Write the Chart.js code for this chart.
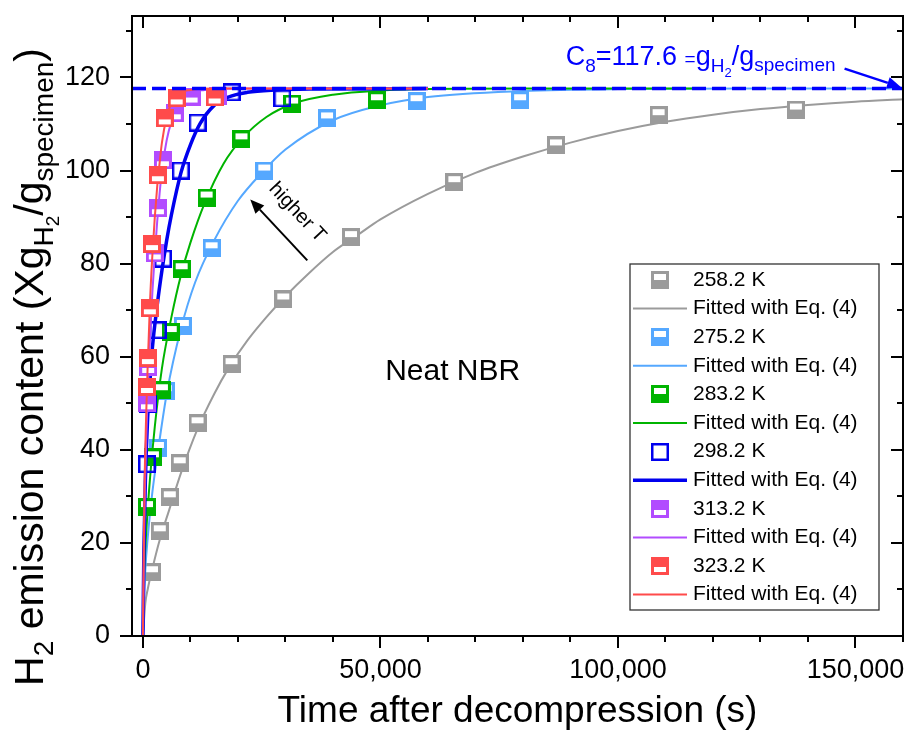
<!DOCTYPE html>
<html>
<head>
<meta charset="utf-8">
<title>H2 emission - Neat NBR</title>
<script src="https://cdn.jsdelivr.net/npm/chart.js@4.4.1/dist/chart.umd.min.js"></script>
<style>
  body { margin: 0; background: #fff; }
  canvas { display: block; }
</style>
</head>
<body>
<canvas id="h2Chart" width="913" height="731"></canvas>
<script>
// ------------------------------
// DATA (time in s, content in wt·ppm-like units)
// ------------------------------
const t258 = [1900, 3550, 5650, 7750, 11500, 18650, 29550, 43800, 65550, 86950, 108550, 137450];
const c258 = [13.7, 22.5, 29.8, 37.1, 45.7, 58.4, 72.3, 85.7, 97.5, 105.4, 111.9, 113.1];
const t275 = [3150, 4800, 8400, 14450, 25550, 38750, 57600, 79400];
const c275 = [40.4, 52.6, 66.6, 83.3, 100.0, 111.2, 114.9, 115.1];
const t283 = [850, 2100, 4000, 5850, 8150, 13400, 20750, 31400, 49250];
const c283 = [27.7, 38.4, 52.8, 65.3, 78.8, 94.2, 106.7, 114.4, 115.1];
const t298 = [850, 1050, 3150, 4200, 7950, 11500, 18650, 29350];
const c298 = [36.9, 49.8, 65.7, 81.1, 100.0, 110.3, 116.8, 115.5];
const t313 = [850, 1100, 2500, 3150, 4200, 6700, 10250, 15700];
const c313 = [50.0, 57.8, 82.2, 91.9, 102.2, 112.3, 115.9, 116.1];
const t323 = [850, 1050, 1450, 1900, 3150, 4600, 7100, 15100];
const c323 = [53.5, 59.7, 70.4, 84.2, 99.0, 111.2, 115.5, 115.7];

// fitted curves (Eq. 4)
const fit258T = [0, 500, 1000, 2000, 3500, 5500, 8000, 11500, 15000, 18000, 22000, 26000, 30000, 35000, 40000, 45000, 50000, 60000, 70000, 80000, 90000, 100000, 110000, 120000, 130000, 140000, 150000, 160000];
const fit258C = [0, 7, 10, 14.5, 20.5, 27, 35, 44.5, 52, 57.5, 63.5, 68.5, 73, 78, 82.5, 86, 89.5, 95, 99.5, 103, 106, 108.5, 110.5, 112, 113.2, 114.1, 114.8, 115.3];
const fit275T = [0, 500, 1000, 2000, 3000, 5000, 8000, 11000, 15000, 20000, 25000, 30000, 40000, 50000, 60000, 80000, 100000, 130000, 160000];
const fit275C = [0, 14, 21, 31, 38.5, 52, 66, 76, 85, 93.5, 99.5, 104.5, 110.8, 114, 115.8, 117.1, 117.5, 117.6, 117.6];
const fit283T = [0, 300, 800, 1500, 2500, 4000, 6000, 8000, 10000, 13000, 17000, 21000, 26000, 32000, 40000, 50000, 60000, 80000, 118000];
const fit283C = [0, 14, 24, 34, 45, 57.5, 68.5, 77.5, 84.5, 93, 101.5, 107, 111.5, 114.5, 116.3, 117.2, 117.5, 117.6, 117.6];
const fit298T = [0, 200, 500, 1000, 1500, 2000, 3000, 4000, 5000, 6000, 8000, 10000, 12000, 15000, 18000, 22000, 28000, 35000, 60000];
const fit298C = [0, 18, 33, 47, 55, 62, 71, 78.5, 85, 90.5, 99.5, 105.5, 110, 114, 115.8, 116.8, 117.3, 117.5, 117.6];
const fit313T = [0, 300, 700, 1000, 1500, 2000, 2500, 3000, 3500, 4000, 5000, 6000, 7000, 8500, 10000, 13000, 20000, 60000];
const fit313C = [0, 25, 42, 52, 64, 74, 82, 89, 95, 100, 106.5, 110.5, 113, 115.5, 116.7, 117.3, 117.6, 117.6];
const fit323T = [0, 300, 700, 1000, 1500, 2000, 2500, 3000, 3500, 4000, 5000, 6000, 7500, 10000, 15000, 60000];
const fit323C = [0, 30, 48, 58, 72, 82, 90, 96.5, 101.5, 106, 111.5, 114.5, 116.5, 117.3, 117.6, 117.6];

// saturation content C8
const c8 = 117.6;

// axes
const xMin = -2300, xMax = 160000;
const yMin = 0, yMax = 133.2;
const xTicks = [0, 50000, 100000, 150000];
const yTicks = [0, 20, 40, 60, 80, 100, 120];
const xMinorStep = 10000;
const yMinorStep = 10;

const FONT = "'Liberation Sans', Arial, sans-serif";

// ------------------------------
// MARKERS (square with white window)
// ------------------------------
function makeMarker(color, win) {
  const s = 18;
  const c = document.createElement('canvas');
  c.width = s; c.height = s;
  const g = c.getContext('2d');
  if (win === 'hollow') {
    g.strokeStyle = color;
    g.lineWidth = 2.5;
    g.strokeRect(1.25, 1.25, s - 2.5, s - 2.5);
  } else {
    g.fillStyle = color;
    g.fillRect(0, 0, s, s);
    g.fillStyle = '#fff';
    if (win === 'top') g.fillRect(3, 3, s - 6, 6);
    else g.fillRect(3, s - 8, s - 6, 5);
  }
  return c;
}

const series = [
  { label: '258.2 K', color: '#9b9b9b', t: t258, c: c258, fitT: fit258T, fitC: fit258C, win: 'top', width: 2 },
  { label: '275.2 K', color: '#55a8ff', t: t275, c: c275, fitT: fit275T, fitC: fit275C, win: 'top', width: 2 },
  { label: '283.2 K', color: '#00b400', t: t283, c: c283, fitT: fit283T, fitC: fit283C, win: 'top', width: 2 },
  { label: '298.2 K', color: '#0000ee', t: t298, c: c298, fitT: fit298T, fitC: fit298C, win: 'hollow', width: 3.5 },
  { label: '313.2 K', color: '#b24cff', t: t313, c: c313, fitT: fit313T, fitC: fit313C, win: 'bottom', width: 2 },
  { label: '323.2 K', color: '#ff4b4b', t: t323, c: c323, fitT: fit323T, fitC: fit323C, win: 'bottom', width: 2 }
];

const toPoints = (xs, ys) => xs.map((x, i) => ({ x: x, y: ys[i] }));

const datasets = [{
  label: 'C8',
  data: [{ x: xMin, y: c8 }, { x: xMax, y: c8 }],
  borderColor: '#0000ff',
  borderWidth: 3.5,
  borderDash: [14, 6],
  pointRadius: 0,
  showLine: true,
  order: 0
}];

series.forEach((s, i) => {
  s.marker = makeMarker(s.color, s.win);
  datasets.push({
    label: s.label,
    data: toPoints(s.t, s.c),
    pointStyle: s.marker,
    pointRadius: 9,
    showLine: false,
    order: 20 - i * 2
  });
  datasets.push({
    label: 'Fitted with Eq. (4)',
    data: toPoints(s.fitT, s.fitC),
    borderColor: s.color,
    borderWidth: s.width,
    pointRadius: 0,
    showLine: true,
    cubicInterpolationMode: 'monotone',
    order: 21 - i * 2
  });
});

// ------------------------------
// DRAWING HELPERS
// ------------------------------
function drawRich(ctx, parts, x, y, align) {
  let total = 0;
  parts.forEach(p => {
    ctx.font = p.size + 'px ' + FONT;
    p.w = ctx.measureText(p.text).width;
    total += p.w;
  });
  let cx = align === 'center' ? x - total / 2 : x;
  ctx.textAlign = 'left';
  ctx.textBaseline = 'alphabetic';
  parts.forEach(p => {
    ctx.font = p.size + 'px ' + FONT;
    ctx.fillText(p.text, cx, y + (p.dy || 0));
    cx += p.w;
  });
}

function drawArrow(ctx, x1, y1, x2, y2, color, width, headLen, headHalf) {
  const ang = Math.atan2(y2 - y1, x2 - x1);
  const bx = x2 - headLen * Math.cos(ang);
  const by = y2 - headLen * Math.sin(ang);
  ctx.strokeStyle = color;
  ctx.fillStyle = color;
  ctx.lineWidth = width;
  ctx.beginPath();
  ctx.moveTo(x1, y1);
  ctx.lineTo(bx, by);
  ctx.stroke();
  ctx.beginPath();
  ctx.moveTo(x2, y2);
  ctx.lineTo(bx + headHalf * Math.sin(ang), by - headHalf * Math.cos(ang));
  ctx.lineTo(bx - headHalf * Math.sin(ang), by + headHalf * Math.cos(ang));
  ctx.closePath();
  ctx.fill();
}

// frame, ticks on all sides, labels, legend
const decorations = {
  id: 'decorations',
  afterDraw(chart) {
    const { ctx, chartArea: a, scales: { x, y } } = chart;
    ctx.save();

    // frame
    ctx.strokeStyle = '#000';
    ctx.lineWidth = 2;
    ctx.strokeRect(a.left, a.top, a.right - a.left, a.bottom - a.top);

    // ticks: outward on bottom/left, inward on top/right
    const majorLen = 12, minorLen = 6;
    ctx.lineWidth = 2;
    ctx.beginPath();
    for (let v = 0; v <= xMax; v += xMinorStep) {
      const px = Math.round(x.getPixelForValue(v));
      const len = xTicks.includes(v) ? majorLen : minorLen;
      ctx.moveTo(px, a.bottom); ctx.lineTo(px, a.bottom + len);
      ctx.moveTo(px, a.top); ctx.lineTo(px, a.top + len);
    }
    for (let v = 0; v <= yMax; v += yMinorStep) {
      const py = Math.round(y.getPixelForValue(v));
      const len = yTicks.includes(v) ? majorLen : minorLen;
      ctx.moveTo(a.left, py); ctx.lineTo(a.left - len, py);
      ctx.moveTo(a.right, py); ctx.lineTo(a.right - len, py);
    }
    ctx.stroke();

    // axis titles
    ctx.fillStyle = '#000';
    ctx.font = '37px ' + FONT;
    ctx.textAlign = 'center';
    ctx.textBaseline = 'alphabetic';
    ctx.fillText('Time after decompression (s)', (a.left + a.right) / 2, 722);

    ctx.save();
    ctx.translate(43, 367);
    ctx.rotate(-Math.PI / 2);
    drawRich(ctx, [
      { text: 'H', size: 41 },
      { text: '2', size: 28, dy: 10 },
      { text: ' emission content (Xg', size: 41 },
      { text: 'H', size: 28, dy: 10 },
      { text: '2', size: 19, dy: 16 },
      { text: '/g', size: 41 },
      { text: 'specimen', size: 28, dy: 10 },
      { text: ')', size: 41 }
    ], 0, 0, 'center');
    ctx.restore();

    // C8 annotation + arrow
    ctx.fillStyle = '#0000ff';
    drawRich(ctx, [
      { text: 'C', size: 27 },
      { text: '8', size: 19, dy: 7 },
      { text: '=117.6 ', size: 27 },
      { text: '=', size: 19 },
      { text: 'g', size: 27 },
      { text: 'H', size: 19, dy: 7 },
      { text: '2', size: 13, dy: 12 },
      { text: '/g', size: 27 },
      { text: 'specimen', size: 19, dy: 6 }
    ], x.getPixelForValue(89000), y.getPixelForValue(122.6), 'left');
    drawArrow(ctx, x.getPixelForValue(147700), y.getPixelForValue(121.9),
      x.getPixelForValue(159600), y.getPixelForValue(117.9), '#0000ff', 2.5, 14, 6);

    // sample name
    ctx.fillStyle = '#000';
    ctx.font = '30px ' + FONT;
    ctx.textAlign = 'center';
    ctx.textBaseline = 'middle';
    ctx.fillText('Neat NBR', x.getPixelForValue(65200), y.getPixelForValue(56.7));

    // temperature trend arrow
    drawArrow(ctx, x.getPixelForValue(34600), y.getPixelForValue(80.7),
      x.getPixelForValue(22600), y.getPixelForValue(93.8), '#000', 2, 14, 6);
    ctx.save();
    ctx.translate(x.getPixelForValue(32500), y.getPixelForValue(91.0));
    ctx.rotate(0.82);
    ctx.font = '20px ' + FONT;
    ctx.fillText('higher T', 0, 0);
    ctx.restore();

    // legend box
    const lg = { left: 630, top: 264, width: 249, height: 346, firstRow: 280, rowH: 28.6 };
    ctx.fillStyle = '#fff';
    ctx.fillRect(lg.left, lg.top, lg.width, lg.height);
    ctx.strokeStyle = '#333';
    ctx.lineWidth = 1.3;
    ctx.strokeRect(lg.left, lg.top, lg.width, lg.height);
    ctx.font = '21px ' + FONT;
    ctx.textAlign = 'left';
    ctx.textBaseline = 'middle';
    series.forEach((s, i) => {
      const r1 = lg.firstRow + i * 2 * lg.rowH;
      const r2 = r1 + lg.rowH;
      ctx.drawImage(s.marker, 660 - 9, Math.round(r1) - 9);
      ctx.fillStyle = '#000';
      ctx.fillText(s.label, 693, r1);
      ctx.strokeStyle = s.color;
      ctx.lineWidth = s.width;
      ctx.beginPath();
      ctx.moveTo(633, r2); ctx.lineTo(687, r2);
      ctx.stroke();
      ctx.fillText('Fitted with Eq. (4)', 693, r2);
    });

    ctx.restore();
  }
};

// ------------------------------
// CHART
// ------------------------------
const ctx = document.getElementById('h2Chart').getContext('2d');
new Chart(ctx, {
  type: 'scatter',
  data: { datasets: datasets },
  options: {
    responsive: false,
    animation: false,
    devicePixelRatio: 1,
    layout: { padding: { top: 16, right: 6, left: 0, bottom: 0 } },
    plugins: {
      legend: { display: false },
      tooltip: { enabled: false }
    },
    scales: {
      x: {
        type: 'linear',
        min: xMin,
        max: xMax,
        grid: { display: false },
        border: { display: false },
        afterBuildTicks: (scale) => { scale.ticks = xTicks.map(v => ({ value: v })); },
        afterFit: (scale) => {
          scale.height = 95;
          scale.paddingLeft = 0;
          scale.paddingRight = 0;
        },
        ticks: {
          color: '#000',
          padding: 10,
          maxRotation: 0,
          font: { family: FONT, size: 27 },
          callback: (v) => v.toLocaleString('en-US')
        }
      },
      y: {
        type: 'linear',
        min: yMin,
        max: yMax,
        grid: { display: false },
        border: { display: false },
        afterBuildTicks: (scale) => { scale.ticks = yTicks.map(v => ({ value: v })); },
        afterFit: (scale) => {
          scale.width = 132;
          scale.paddingTop = 0;
          scale.paddingBottom = 0;
        },
        ticks: {
          color: '#000',
          padding: 14,
          font: { family: FONT, size: 27 }
        }
      }
    }
  },
  plugins: [decorations]
});
</script>
</body>
</html>
